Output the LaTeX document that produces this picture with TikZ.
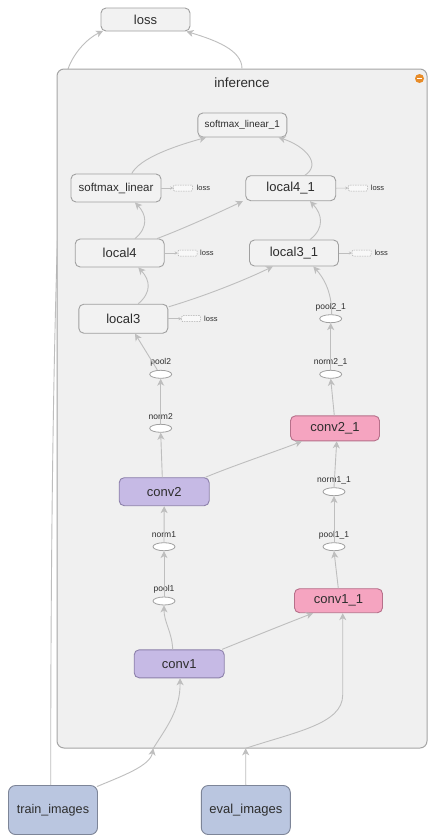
\documentclass[tikz,border=0pt]{standalone}
\usepackage{fontspec}
\setmainfont{Liberation Sans}
\usetikzlibrary{arrows.meta,calc,shapes.geometric}
\definecolor{edgec}{RGB}{190,190,190}
\definecolor{nodef}{RGB}{242,242,242}
\definecolor{nodeb}{RGB}{160,160,160}
\definecolor{inff}{RGB}{240,240,240}
\definecolor{infb}{RGB}{165,165,165}
\definecolor{txt}{RGB}{45,45,45}
\definecolor{convf}{RGB}{198,186,229}
\definecolor{convb}{RGB}{140,128,170}
\definecolor{pinkf}{RGB}{245,164,192}
\definecolor{pinkb}{RGB}{182,112,138}
\definecolor{imgf}{RGB}{186,198,224}
\definecolor{imgb}{RGB}{125,133,152}
\definecolor{orng}{RGB}{232,140,40}
\begin{document}
\begin{tikzpicture}[x=1pt,y=-1pt,
  box/.style={draw=nodeb, fill=nodef, rounded corners=5pt, line width=0.9pt, inner sep=0pt, text=txt, font=\fontsize{13}{15}\selectfont},
  convbox/.style={box, draw=convb, fill=convf},
  pinkbox/.style={box, draw=pinkb, fill=pinkf},
  imgbox/.style={box, draw=imgb, fill=imgf, rounded corners=7pt},
  oval/.style={ellipse, draw=nodeb, fill=white, line width=0.8pt, minimum width=22pt, minimum height=8pt, inner sep=0pt},
  smalllab/.style={inner sep=0pt, text=txt, font=\fontsize{8.5}{9}\selectfont},
  stubbox/.style={draw=nodeb!85, dash pattern=on 1.5pt off 1pt, fill=white!50!nodef, minimum width=19pt, minimum height=6pt, inner sep=0pt, line width=0.5pt, rounded corners=1pt},
  stubtxt/.style={inner sep=0pt, anchor=west, text=txt, font=\fontsize{7.5}{8}\selectfont},
  edge/.style={draw=edgec, line width=0.9pt, -{Stealth[length=7pt,width=7pt,inset=2pt]}},
  stub/.style={draw=edgec, line width=0.6pt, -{Stealth[length=3pt,width=3pt]}}
]
\useasboundingbox (0,0) rectangle (441,839);
\fill[white] (0,0) rectangle (441,839);

% top loss node and image nodes
\node[box, minimum width=89pt, minimum height=23pt] (loss) at (145.5,19.5) {loss};
\node[imgbox, minimum width=89pt, minimum height=49pt, font=\fontsize{12.6}{15}\selectfont] (train) at (53,810) {train\_images};
\node[imgbox, minimum width=89pt, minimum height=49pt] (eval) at (245.8,810) {eval\_images};

% edge from train_images to loss (mostly hidden behind the inference box)
\draw[edge] ($(train.north)+(-2.3,0)$) .. controls (50.7,400) and (58,130) .. (68,69) .. controls (74,52) and (88,38) .. (103,31);

% inference box
\node[draw=infb, fill=inff, rounded corners=7pt, line width=1pt, minimum width=370pt, minimum height=679pt, inner sep=0pt] (inf) at (242,408.5) {};
\node[inner sep=0pt, text=txt, font=\fontsize{13.4}{15}\selectfont] (inftitle) at (242,83) {inference};
\node[circle, fill=orng, minimum size=9pt, inner sep=0pt] (icon) at (419.5,78.5) {};
\draw[white, line width=1.6pt] ($(icon.center)+(-2.6,0)$) -- ($(icon.center)+(2.6,0)$);

\draw[edge] (inf.north) .. controls (242,50) and (215,40) .. ($(loss.south east)+(-4,0)$);

% inner nodes
\node[box, minimum width=89pt, minimum height=24pt, font=\fontsize{9.9}{12}\selectfont] (sm1) at (242.3,125) {softmax\_linear\_1};
\node[box, minimum width=90pt, minimum height=28pt, font=\fontsize{11.5}{13}\selectfont] (sm) at (116,188) {softmax\_linear};
\node[box, minimum width=90pt, minimum height=25pt] (l41) at (290.7,188.2) {local4\_1};
\node[box, minimum width=89pt, minimum height=28pt] (l4) at (119.7,253) {local4};
\node[box, minimum width=89pt, minimum height=26pt] (l31) at (294,253) {local3\_1};
\node[box, minimum width=89pt, minimum height=29pt] (l3) at (123.3,318.7) {local3};
\node[pinkbox, minimum width=89pt, minimum height=25pt] (c21) at (335,428.3) {conv2\_1};
\node[convbox, minimum width=90pt, minimum height=28pt] (c2) at (164.2,491.7) {conv2};
\node[pinkbox, minimum width=88pt, minimum height=24pt] (c11) at (338.5,600.7) {conv1\_1};
\node[convbox, minimum width=90pt, minimum height=28pt] (c1) at (179.2,663.8) {conv1};

% ovals and their labels
\node[oval] (p21) at (330.7,318.7) {};
\node[smalllab] (p21t) at (330.7,307) {pool2\_1};
\node[oval] (n21) at (330.7,374.3) {};
\node[smalllab] (n21t) at (330.7,362.7) {norm2\_1};
\node[oval] (p2) at (160.7,374.3) {};
\node[smalllab] (p2t) at (160.7,362.7) {pool2};
\node[oval] (n2) at (160.7,428.3) {};
\node[smalllab] (n2t) at (160.7,417) {norm2};
\node[oval] (n11) at (334,491.7) {};
\node[smalllab] (n11t) at (334,480) {norm1\_1};
\node[oval] (n1) at (164,546.7) {};
\node[smalllab] (n1t) at (164,535) {norm1};
\node[oval] (p11) at (334,546.7) {};
\node[smalllab] (p11t) at (334,535) {pool1\_1};
\node[oval] (p1) at (164,601) {};
\node[smalllab] (p1t) at (164,589.3) {pool1};

% loss stubs
\node[stubbox] (smL) at (183,188) {};
\node[stubtxt] (smLt) at (196.5,188) {loss};
\draw[stub] (sm.east) -- (smL.west);
\node[stubbox] (l41L) at (358,188) {};
\node[stubtxt] (l41Lt) at (370.7,188) {loss};
\draw[stub] (l41.east) -- (l41L.west);
\node[stubbox] (l4L) at (187.5,253) {};
\node[stubtxt] (l4Lt) at (200,253) {loss};
\draw[stub] (l4.east) -- (l4L.west);
\node[stubbox] (l31L) at (361.7,253) {};
\node[stubtxt] (l31Lt) at (374.3,253) {loss};
\draw[stub] (l31.east) -- (l31L.west);
\node[stubbox] (l3L) at (191.2,318.7) {};
\node[stubtxt] (l3Lt) at (204,318.7) {loss};
\draw[stub] (l3.east) -- (l3L.west);

% entry points on the inference box
\coordinate (inA) at (153.3,748.3);
\coordinate (inB) at (245.7,748.3);
\draw[edge] ($(train.north east)+(-1,1.5)$) .. controls (122,776) and (150,766) .. (inA);
\draw[edge] (eval.north) -- (inB);
\draw[edge] (inA) .. controls (166,728) and (180.5,710) .. ($(c1.south)+(0.8,0)$);
\draw[edge] (inB) .. controls (295,732) and (342.7,724) .. (342.7,695) -- ($(c11.south)+(4.2,0)$);

% left column
\draw[edge] ($(c1.north)+(-6.5,0)$) .. controls (172,632) and (164,622) .. (p1.south);
\draw[edge] (p1.north) -- (n1.south);
\draw[edge] (n1.north) -- (c2.south);
\draw[edge] ($(c2.north)+(-1.9,0)$) -- (n2.south);
\draw[edge] (n2.north) -- (p2.south);
\draw[edge] ($(p2.north)+(-3.4,0)$) -- ($(l3.south)+(11.7,0)$);
\draw[edge] ($(l3.north)+(15,0)$) .. controls (152,292) and (150,280) .. ($(l4.south)+(18.6,0)$);
\draw[edge] ($(l4.north)+(15.3,0)$) .. controls (149,227) and (146,214) .. ($(sm.south)+(19,0)$);
\draw[edge] ($(sm.north)+(15.7,0)$) .. controls (140,158) and (175,146) .. ($(sm1.south west)+(8.7,0)$);

% cross edges
\draw[edge] ($(c1.north east)+(-2.5,0)$) .. controls (255,636) and (290,622) .. ($(c11.south west)+(19,0)$);
\draw[edge] ($(c2.north east)+(-4.2,0)$) .. controls (235,465) and (280,450) .. ($(c21.south west)+(11.8,0)$);
\draw[edge] ($(l3.north east)+(0.5,3)$) .. controls (205,296) and (245,280) .. ($(l31.south west)+(23.8,0)$);
\draw[edge] ($(l4.north east)+(-7.5,0)$) .. controls (185,228) and (220,212) .. ($(l41.south west)+(-2.4,0)$);

% right column
\draw[edge] ($(c11.north)+(-0.2,0)$) -- (p11.south);
\draw[edge] (p11.north) -- (n11.south);
\draw[edge] (n11.north) -- ($(c21.south)+(1.7,0)$);
\draw[edge] ($(c21.north)+(-0.7,0)$) -- (n21.south);
\draw[edge] (n21.north) -- (p21.south);
\draw[edge] ($(p21.north)+(1,0)$) .. controls (332,290) and (322,276) .. ($(l31.south)+(19.3,0)$);
\draw[edge] ($(l31.north)+(16,0)$) .. controls (325,228) and (322,214) .. ($(l41.south)+(19.3,0)$);
\draw[edge] ($(l41.north)+(14.3,0)$) .. controls (322,164) and (305,146) .. ($(sm1.south east)+(-8.7,0)$);
\end{tikzpicture}
\end{document}
